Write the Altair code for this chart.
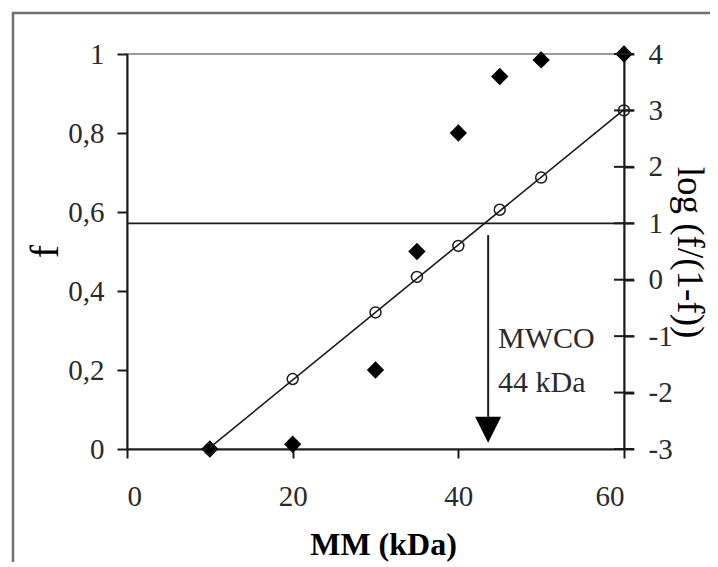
import altair as alt
import pandas as pd

# ---- data ----
mm = [10, 20, 30, 35, 40, 45, 50, 60]
f_vals = [0.0, 0.012, 0.2, 0.5, 0.8, 0.943, 0.985, 1.0]
logit_vals = [-3.0, -1.76, -0.58, 0.05, 0.60, 1.24, 1.81, 3.0]

x_ticks = [0, 20, 40, 60]
f_ticks = [0, 0.2, 0.4, 0.6, 0.8, 1]
log_ticks = [-3, -2, -1, 0, 1, 2, 3, 4]

mwco_level = 1.0
mwco_x = 43.6
arrow_top = 0.79
arrow_bottom = -2.43
arrow_head = -2.66
label_x = 44.8
label_lines = ["MWCO", "44 kDa"]
label_y = [-1.21, -1.99]

FONT = "Liberation Serif"
INK = "#1a1a1a"

df = pd.DataFrame({"mm": mm, "f": f_vals, "logit": logit_vals})
xscale = alt.Scale(domain=[0, 60], nice=False, zero=False)
fscale = alt.Scale(domain=[0, 1], nice=False)
lscale = alt.Scale(domain=[-3, 4], nice=False, zero=False)

xaxis = alt.Axis(values=x_ticks, title="MM (kDa)", titleFontWeight="bold",
                 titleFontSize=32, titleX=256, titleY=105, titleAlign="center",
                 titleBaseline="alphabetic", labelPadding=24, tickSize=9,
                 grid=False, labelFontSize=29)


def X(field="mm"):
    return alt.X(f"{field}:Q", scale=xscale, axis=xaxis)


# ---- left (f) layer ----
left_axis = alt.Axis(orient="left", values=f_ticks, title="f", titleFontSize=40,
                     titleFontWeight="normal", titleX=-70, titleY=197,
                     titleAngle=270, titleAlign="center", titleBaseline="alphabetic",
                     labelExpr="replace(toString(datum.value), '.', ',')",
                     tickSize=10, labelPadding=13, grid=False, labelFontSize=29)

diamonds = alt.Chart(df).mark_point(shape="diamond", filled=True, size=300,
                                    color="black", opacity=1).encode(
    x=X(), y=alt.Y("f:Q", scale=fscale, axis=left_axis))

left = alt.layer(diamonds)

# ---- right (log) layers ----
right_axis = alt.Axis(orient="right", values=log_ticks, title="log (f/(1-f))",
                      titleFontSize=37, titleFontWeight="normal", titleX=53,
                      titleY=198, titleAngle=90, titleAlign="center",
                      titleBaseline="alphabetic",
                      labelExpr="datum.value < 0 ? '-' + toString(-datum.value) : toString(datum.value)",
                      tickSize=10, labelPadding=14, grid=False, labelFontSize=29)


def YR(field):
    return alt.Y(f"{field}:Q", scale=lscale, axis=right_axis)


reg = alt.Chart(df).transform_regression("mm", "logit", extent=[10, 60]).mark_line(
    color=INK, strokeWidth=1.6).encode(x=X(), y=YR("logit"))

circles = alt.Chart(df).mark_point(shape="circle", filled=False, size=120,
                                   color=INK, strokeWidth=1.5, opacity=1).encode(
    x=X(), y=YR("logit"))

hline = alt.Chart(pd.DataFrame({"lvl": [mwco_level]})).mark_rule(
    color=INK, strokeWidth=1.8).encode(y=YR("lvl"))

shaft_df = pd.DataFrame({"mm": [mwco_x], "y1": [arrow_top], "y2": [arrow_bottom]})
shaft = alt.Chart(shaft_df).mark_rule(color=INK, strokeWidth=2).encode(
    x=X(), y=YR("y1"), y2="y2:Q")

head_df = pd.DataFrame({"mm": [mwco_x], "y": [arrow_head]})
head = alt.Chart(head_df).mark_point(shape="M-1,-1L1,-1L0,1Z", filled=True,
                                     size=676, color="black", opacity=1).encode(
    x=X(), y=YR("y"))

text_df = pd.DataFrame({"mm": [label_x] * len(label_lines), "y": label_y, "t": label_lines})
labels = alt.Chart(text_df).mark_text(align="left", baseline="alphabetic", font=FONT,
                                      fontSize=30, color="#2a2a2a").encode(
    x=X(), y=YR("y"), text="t:N")

tick_df = pd.DataFrame({"mm": [60] * len(log_ticks), "y": log_ticks})
cross_ticks = alt.Chart(tick_df).mark_tick(orient="horizontal", size=20, thickness=2,
                                           color=INK, opacity=1).encode(
    x=X(), y=YR("y"))

frame = alt.Chart(pd.DataFrame({"a": [0]})).mark_rect(
    fill=None, stroke="#707070", strokeWidth=2.5).encode(
    x=alt.value(-114), y=alt.value(-41), x2=alt.value(700), y2=alt.value(600))

right = alt.layer(reg, circles, hline, shaft, head, labels, cross_ticks)

chart = alt.layer(frame, left, right).resolve_scale(y="independent").properties(
    width=497, height=395,
    padding={"left": 119, "top": 46, "right": 86, "bottom": 113},
    autosize=alt.AutoSizeParams(type="none"),
    background="white",
).configure_view(stroke="#9a9a9a", strokeWidth=2).configure_axis(
    labelFont=FONT, titleFont=FONT, labelColor="#2a2a2a", titleColor="black",
    domainColor=INK, domainWidth=2, tickColor=INK, tickWidth=2,
)

chart.save("out.html", embed_options={"renderer": "svg", "actions": False})
